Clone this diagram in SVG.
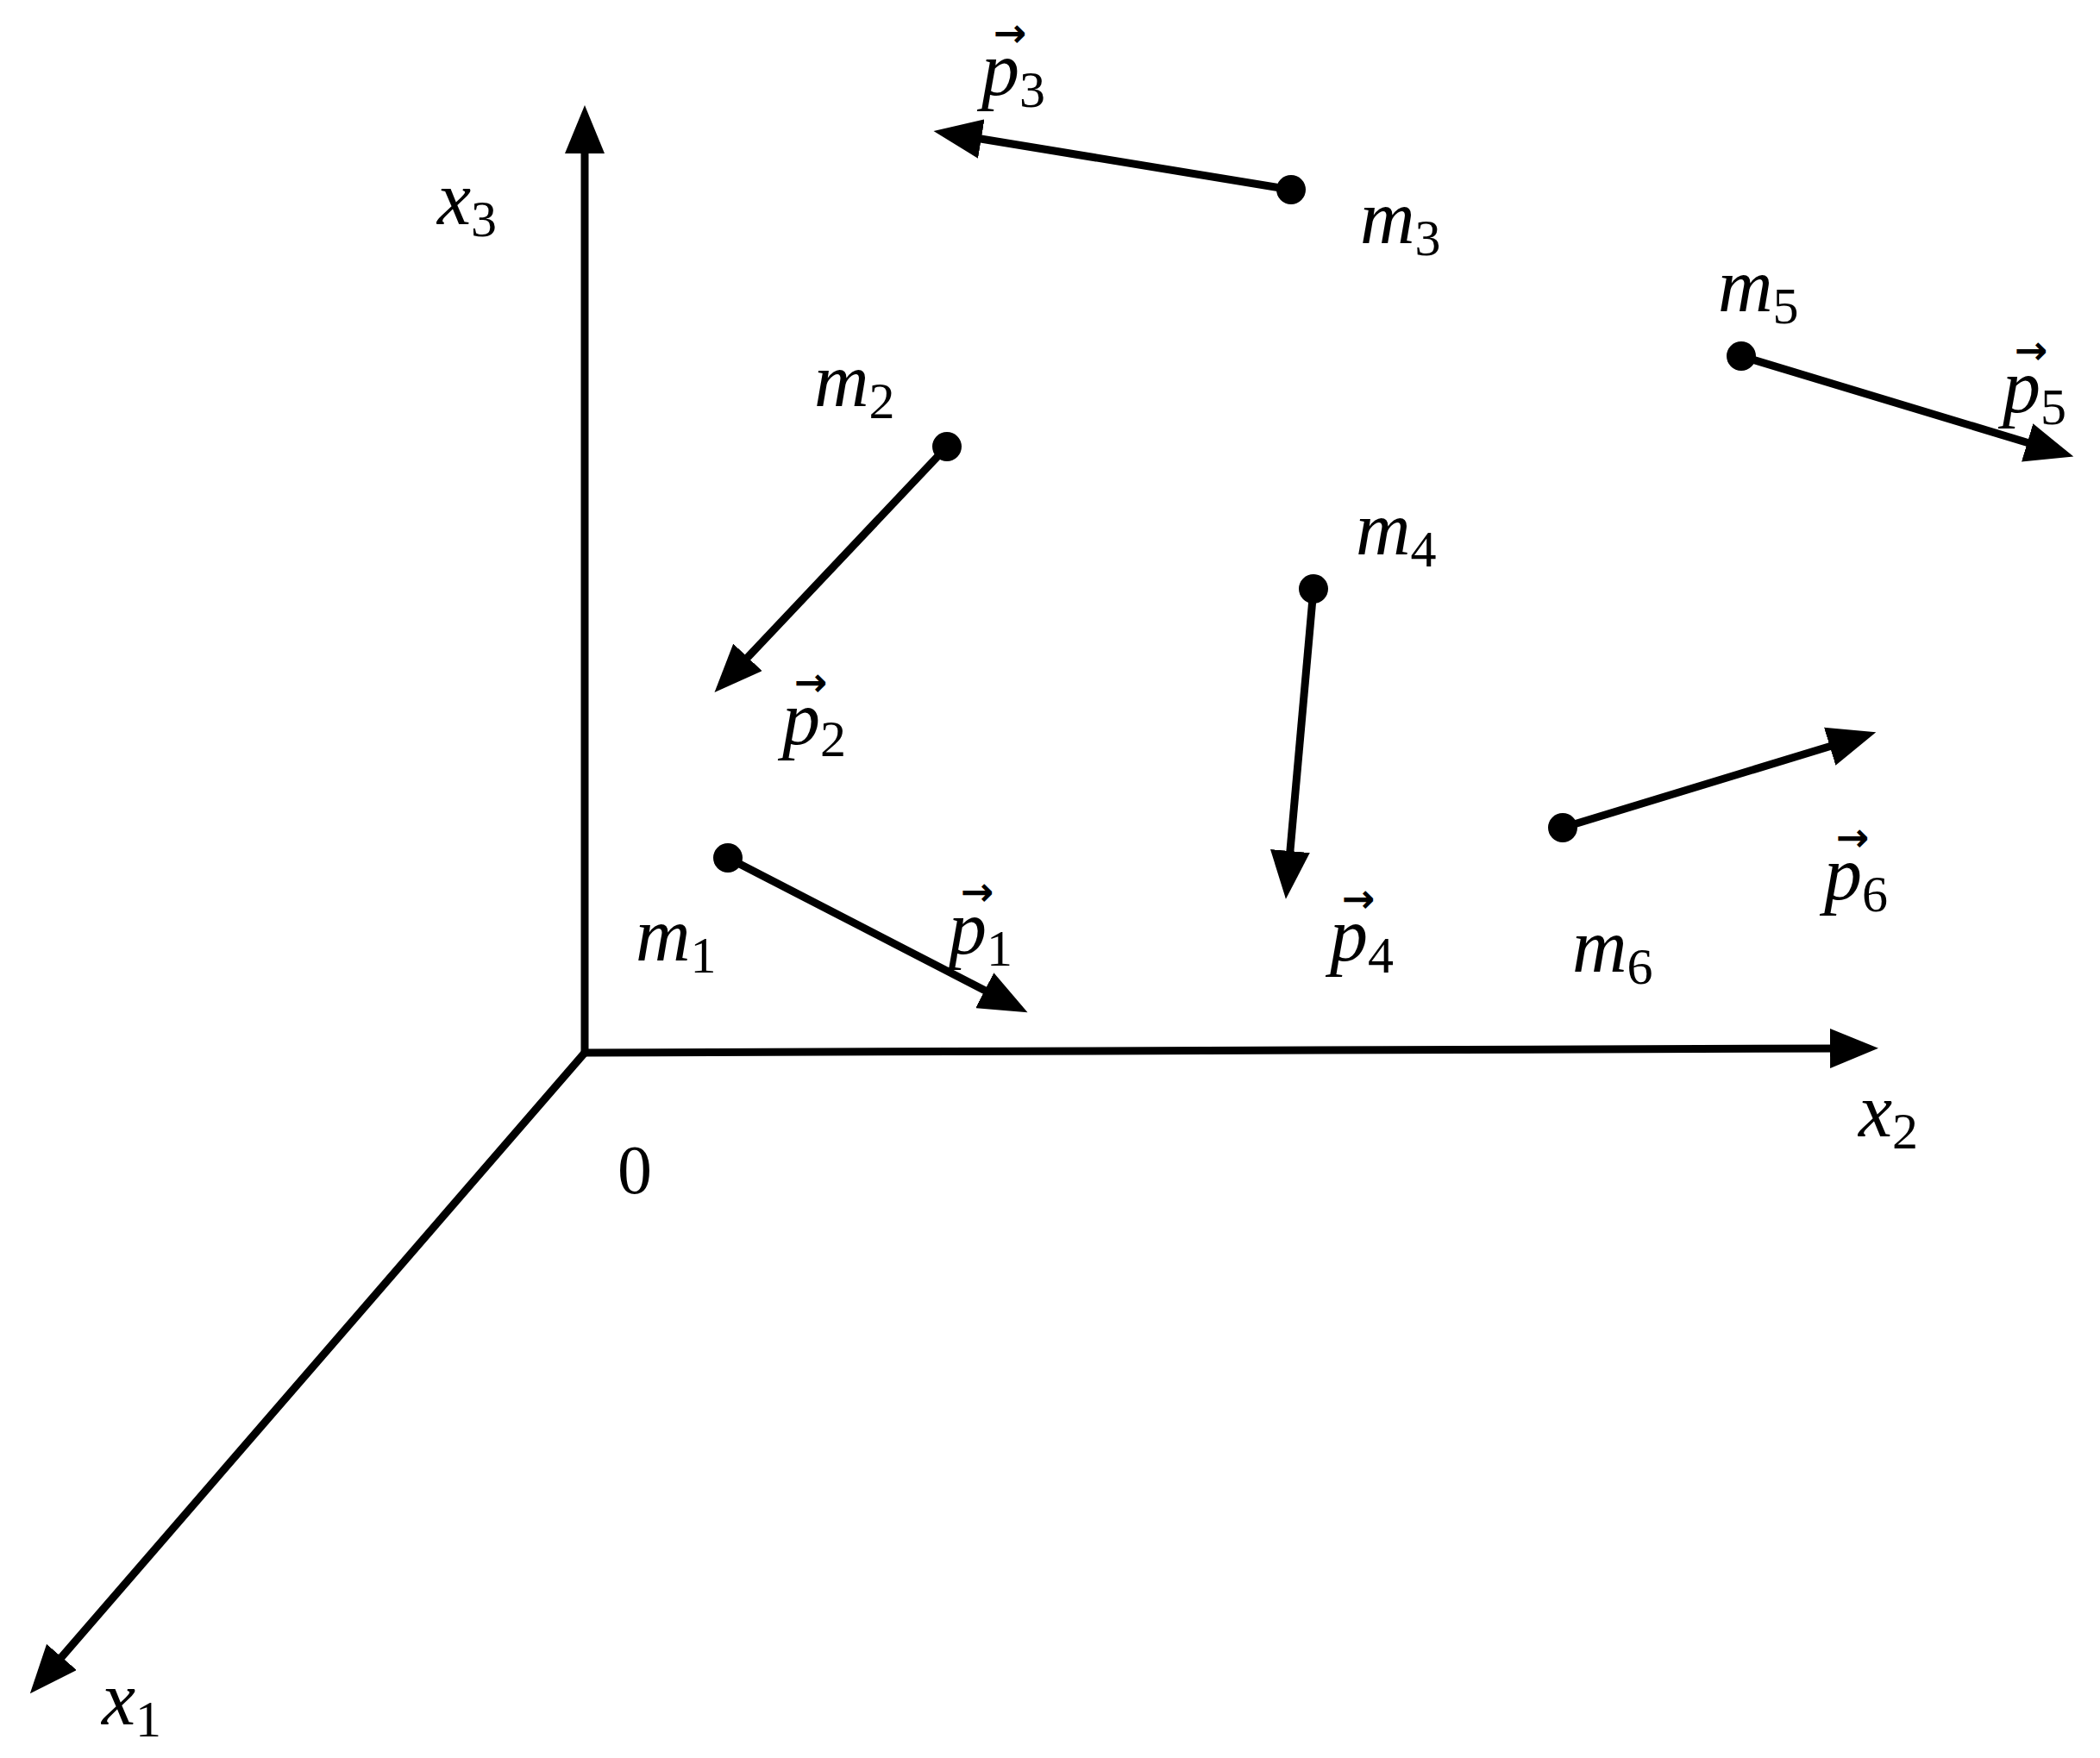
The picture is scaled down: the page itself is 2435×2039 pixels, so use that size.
<svg xmlns="http://www.w3.org/2000/svg" width="2435" height="2039" viewBox="0 0 2435 2039">
<style>
.ln{stroke:#000;stroke-width:9;fill:none;marker-end:url(#ah)}
.t{font-family:"Liberation Serif",serif;font-style:italic;font-size:88px;fill:#000}
.s{font-style:normal;font-size:60px}
.n{font-family:"Liberation Serif",serif;font-size:80px;fill:#000}
.v{font-family:"DejaVu Sans",sans-serif;font-size:46px;font-weight:bold;fill:#000}
</style>
<defs>
<marker id="ah" markerUnits="userSpaceOnUse" markerWidth="60" markerHeight="46" refX="16" refY="23" orient="auto">
<path d="M0,0 L56,23 L0,46 Z" fill="#000"/>
</marker>
</defs>
<g id="connectors">
<line class="ln" x1="678" y1="1221" x2="678" y2="162"/>
<line class="ln" x1="678" y1="1221" x2="2138" y2="1216"/>
<line class="ln" x1="678" y1="1221" x2="61" y2="1934"/>
<line class="ln" x1="844" y1="995" x2="1156" y2="1156"/>
<line class="ln" x1="1098" y1="518" x2="856" y2="774"/>
<line class="ln" x1="1497" y1="220" x2="1122" y2="158.5"/>
<line class="ln" x1="1523" y1="683" x2="1494.5" y2="1003"/>
<line class="ln" x1="2019" y1="413" x2="2366" y2="518"/>
<line class="ln" x1="1812" y1="960" x2="2137" y2="861"/>
</g>
<g id="axes-labels">
<text class="t" x="507" y="260">x<tspan class="s" dy="14">3</tspan></text>
<text class="t" x="2155" y="1318">x<tspan class="s" dy="14">2</tspan></text>
<text class="t" x="118" y="2000">x<tspan class="s" dy="14">1</tspan></text>
<text class="n" x="716" y="1384">0</text>
</g>
<g id="m1"><circle cx="844" cy="995" r="17"/><text class="t" x="737" y="1114">m<tspan class="s" dy="14">1</tspan></text></g>
<g id="p1"><text class="t" x="1100" y="1106">p<tspan class="s" dy="14">1</tspan></text><text class="v" x="1114" y="1050">→</text></g>
<g id="m2"><circle cx="1098" cy="518" r="17"/><text class="t" x="944" y="471">m<tspan class="s" dy="14">2</tspan></text></g>
<g id="p2"><text class="t" x="907" y="863">p<tspan class="s" dy="14">2</tspan></text><text class="v" x="921" y="807">→</text></g>
<g id="m3"><circle cx="1497" cy="220" r="17"/><text class="t" x="1577" y="282">m<tspan class="s" dy="14">3</tspan></text></g>
<g id="p3"><text class="t" x="1138" y="110">p<tspan class="s" dy="14">3</tspan></text><text class="v" x="1152" y="54">→</text></g>
<g id="m4"><circle cx="1523" cy="683" r="17"/><text class="t" x="1572" y="643">m<tspan class="s" dy="14">4</tspan></text></g>
<g id="p4"><text class="t" x="1542" y="1114">p<tspan class="s" dy="14">4</tspan></text><text class="v" x="1556" y="1058">→</text></g>
<g id="m5"><circle cx="2019" cy="413" r="17"/><text class="t" x="1992" y="361">m<tspan class="s" dy="14">5</tspan></text></g>
<g id="p5"><text class="t" x="2322" y="478">p<tspan class="s" dy="14">5</tspan></text><text class="v" x="2336" y="422">→</text></g>
<g id="m6"><circle cx="1812" cy="960" r="17"/><text class="t" x="1823" y="1127">m<tspan class="s" dy="14">6</tspan></text></g>
<g id="p6"><text class="t" x="2115" y="1043">p<tspan class="s" dy="14">6</tspan></text><text class="v" x="2129" y="987">→</text></g>
</svg>
